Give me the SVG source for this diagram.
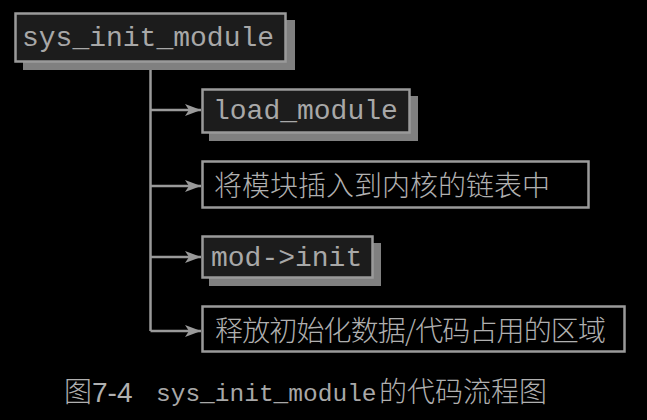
<svg xmlns="http://www.w3.org/2000/svg" width="647" height="420" viewBox="0 0 647 420">
  <defs>
    <style>
      .shadow { fill: #808080; }
      .box { fill: #1c1c1c; stroke: #9a9a9a; stroke-width: 2.5; }
      .plain { fill: #000; stroke: #9a9a9a; stroke-width: 2.5; }
      .mono { font-family: "Liberation Mono", "DejaVu Sans Mono", monospace; font-size: 28px; fill: #a8a8a8; }
      .cjk { font-family: "Noto Sans CJK SC", "Noto Sans", sans-serif; font-size: 28px; font-weight: 300; fill: #b0b0b0; }
      .conn { fill: none; stroke: #9a9a9a; stroke-width: 2.5; }
    </style>
    <marker id="arrow" viewBox="0 0 16 12" refX="16" refY="6" markerWidth="16" markerHeight="12" markerUnits="userSpaceOnUse" orient="auto">
      <path d="M0,0 L16,6 L0,12 L4,6 Z" fill="#9a9a9a"/>
    </marker>
  </defs>
  <rect width="647" height="420" fill="#000"/>

  <g id="connectors">
    <path class="conn" d="M150.5,62 V331"/>
    <path class="conn" d="M150.5,110 H201" marker-end="url(#arrow)"/>
    <path class="conn" d="M150.5,186 H201" marker-end="url(#arrow)"/>
    <path class="conn" d="M150.5,257 H201" marker-end="url(#arrow)"/>
    <path class="conn" d="M150.5,331 H201" marker-end="url(#arrow)"/>
  </g>

  <g id="sys_init_module">
    <rect class="shadow" x="23" y="20" width="272" height="50"/>
    <rect class="box" x="15.5" y="13.5" width="270" height="48"/>
    <text class="mono" x="22" y="46">sys_init_module</text>
  </g>

  <g id="load_module">
    <rect class="shadow" x="209" y="96" width="209" height="45"/>
    <rect class="box" x="202.5" y="89.5" width="207" height="43"/>
    <text class="mono" x="213" y="119">load_module</text>
  </g>

  <g id="insert_list">
    <rect class="plain" x="202.5" y="161.5" width="386" height="46"/>
    <text class="cjk" x="214" y="196">将模块插入到内核的链表中</text>
  </g>

  <g id="mod_init">
    <rect class="shadow" x="209" y="243" width="172" height="43"/>
    <rect class="box" x="202.5" y="236.5" width="170" height="41"/>
    <text class="mono" x="211" y="266">mod-&gt;init</text>
  </g>

  <g id="free_init">
    <rect class="plain" x="202.5" y="306.5" width="422" height="45"/>
    <text class="cjk" x="215" y="341" textLength="391" lengthAdjust="spacing">释放初始化数据/代码占用的区域</text>
  </g>

  <g id="caption">
    <text class="cjk" x="64" y="402">图<tspan font-family="Liberation Sans, Arial, sans-serif">7-4</tspan></text>
    <text x="156" y="401" font-family="Liberation Mono, monospace" font-size="24.5" fill="#a8a8a8">sys_init_module</text>
    <text class="cjk" x="379" y="402">的代码流程图</text>
  </g>
</svg>
